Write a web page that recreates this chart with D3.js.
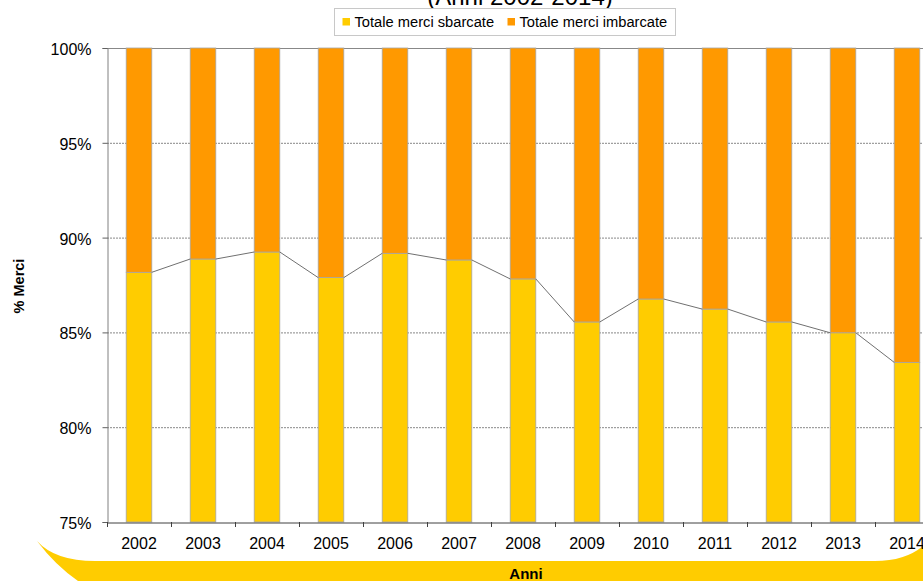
<!DOCTYPE html>
<html><head><meta charset="utf-8">
<script src="https://cdn.jsdelivr.net/npm/d3@7"></script>
<style>body{margin:0;background:#fff;}svg{display:block;font-family:"Liberation Sans",Arial,sans-serif;}</style>
</head><body>
<svg id="c" width="923" height="581"></svg>
<script>
const years = ["2002","2003","2004","2005","2006","2007","2008","2009","2010","2011","2012","2013","2014"];
const sbarcate = [88.17,88.87,89.24,87.89,89.17,88.82,87.82,85.55,86.76,86.23,85.55,84.98,83.42];
const imbarcate = sbarcate.map(v => 100 - v);
const yTicks = [75,80,85,90,95,100];
const seriesNames = ["Totale merci sbarcate","Totale merci imbarcate"];
const colors = ["#FFCC00","#FF9900"];

(function(){
const svg = d3.select("#c");
const pL = 107, pR = 939, pT = 48, pB = 522;
const x = d3.scaleBand().domain(years).range([pL, pR]).paddingInner(0.6).paddingOuter(0.3);
const y = d3.scaleLinear().domain([75,100]).range([pB, pT]);

// swoosh
svg.append("path")
  .attr("d", "M37,541 Q55,561 95,561 L875,561 Q905,561 923,546 L923,581 L78,581 Q55,565 37,541 Z")
  .attr("fill", "#FFCC00");
svg.append("text").attr("x", 526).attr("y", 579).attr("text-anchor","middle")
  .attr("font-size", 15).attr("font-weight","bold").text("Anni");

// gridlines
svg.append("g").selectAll("line").data(yTicks.filter(t => t > 75)).join("line")
  .attr("x1", pL).attr("x2", 923).attr("y1", d => y(d)+0.5).attr("y2", d => y(d)+0.5)
  .attr("stroke", "#888").attr("stroke-width", 1)
  .attr("stroke-dasharray", d => d === 100 ? null : "2,1");

// bars
const stack = years.map((yr, i) => ({yr, a: sbarcate[i], b: imbarcate[i]}));
const g = svg.append("g");
g.selectAll("rect.s").data(stack).join("rect")
  .attr("x", d => x(d.yr)).attr("width", x.bandwidth())
  .attr("y", d => y(d.a)).attr("height", d => y(75) - y(d.a))
  .attr("fill", colors[0]).attr("stroke", "#a6a6a6").attr("stroke-width", 0.8);
g.selectAll("rect.i").data(stack).join("rect")
  .attr("x", d => x(d.yr)).attr("width", x.bandwidth())
  .attr("y", d => y(100)).attr("height", d => y(100 - d.b) - y(100))
  .attr("fill", colors[1]).attr("stroke", "#a6a6a6").attr("stroke-width", 0.8);

// series lines
const seg = [];
for (let i = 0; i < years.length - 1; i++) {
  seg.push([x(years[i]) + x.bandwidth(), y(sbarcate[i]), x(years[i+1]), y(sbarcate[i+1])]);
}
svg.append("g").selectAll("line").data(seg).join("line")
  .attr("x1", d => d[0]).attr("y1", d => d[1]).attr("x2", d => d[2]).attr("y2", d => d[3])
  .attr("stroke", "#707070").attr("stroke-width", 1);

// y axis
const ya = svg.append("g").attr("transform", `translate(${pL+0.5},0)`)
  .call(d3.axisLeft(y).tickValues(yTicks).tickSize(5).tickPadding(11).tickFormat(d => d + "%"));
ya.select(".domain").attr("stroke", "#808080");
ya.selectAll(".tick line").attr("stroke", "#606060");
ya.selectAll("text").attr("font-size", 16).attr("dy", "0.4em").attr("fill", "#000").attr("font-family", "Liberation Sans, Arial, sans-serif");

// x axis
const xa = svg.append("g").attr("transform", `translate(0,${pB+0.5})`)
  .call(d3.axisBottom(x).tickSizeOuter(0).tickSize(0).tickPadding(15));
xa.select(".domain").attr("stroke", "#404040");
xa.selectAll("text").attr("font-size", 16).attr("fill", "#000").attr("font-family", "Liberation Sans, Arial, sans-serif");
const sepPos = years.map((yr) => x(yr) - x.step()*x.paddingOuter());
sepPos.push(pR);
svg.append("g").selectAll("line").data(sepPos).join("line")
  .attr("x1", d => Math.round(d)+0.5).attr("x2", d => Math.round(d)+0.5)
  .attr("y1", pB).attr("y2", pB + 5).attr("stroke", "#404040");

// y title
svg.append("text").attr("transform", "translate(24,286) rotate(-90)")
  .attr("text-anchor","middle").attr("font-size", 14.5).attr("font-weight","bold").text("% Merci");

// title
svg.append("text").attr("x", 520).attr("y", 5).attr("text-anchor","middle")
  .attr("font-size", 24).text("(Anni 2002-2014)");

// legend
const lg = svg.append("g");
lg.append("rect").attr("x", 334.5).attr("y", 8.5).attr("width", 341).attr("height", 27)
  .attr("fill", "#fff").attr("stroke", "#c8c8c8");
const lx = [342.5, 507.5];
seriesNames.forEach((n, i) => {
  lg.append("rect").attr("x", lx[i]).attr("y", 18).attr("width", 7.5).attr("height", 7.5).attr("fill", colors[i]);
  lg.append("text").attr("x", lx[i] + 12).attr("y", 26.5).attr("font-size", 14.7).text(n);
});
})();
</script>
</body></html>
